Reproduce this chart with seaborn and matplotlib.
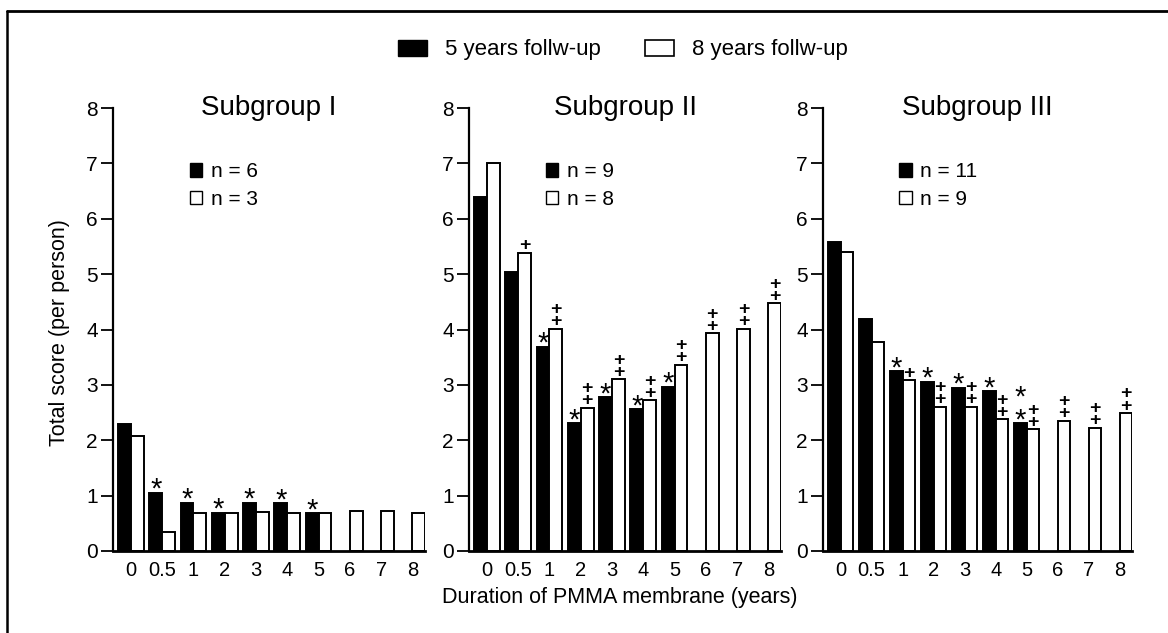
import numpy as np
import pandas as pd
import matplotlib
matplotlib.use("Agg")
import matplotlib.pyplot as plt
from matplotlib.patches import Patch
from matplotlib.lines import Line2D
import seaborn as sns

# ---------------- data ----------------
years = ["0", "0.5", "1", "2", "3", "4", "5", "6", "7", "8"]
series = ["5 years follw-up", "8 years follw-up"]
nan = np.nan

sub1_5y = [2.30, 1.05, 0.87, 0.69, 0.87, 0.86, 0.68, nan, nan, nan]
sub1_8y = [2.08, 0.35, 0.69, 0.69, 0.71, 0.68, 0.68, 0.72, 0.72, 0.68]
sub2_5y = [6.40, 5.03, 3.69, 2.31, 2.78, 2.56, 2.97, nan, nan, nan]
sub2_8y = [7.00, 5.39, 4.01, 2.59, 3.10, 2.72, 3.36, 3.93, 4.01, 4.47]
sub3_5y = [5.58, 4.19, 3.25, 3.06, 2.95, 2.89, 2.31, nan, nan, nan]
sub3_8y = [5.40, 3.77, 3.08, 2.60, 2.60, 2.38, 2.20, 2.35, 2.23, 2.49]

titles = ["Subgroup I", "Subgroup II", "Subgroup III"]
n_5y = ["n = 6", "n = 9", "n = 11"]
n_8y = ["n = 3", "n = 8", "n = 9"]

# significance marks (category -> symbol)
marks1_5y = {"0.5": "*", "1": "*", "2": "*", "3": "*", "4": "*", "5": "*"}
marks1_8y = {}
marks2_5y = {"1": "*", "2": "*", "3": "*", "4": "*", "5": "*"}
marks2_8y = {"0.5": "+", "1": "++", "2": "++", "3": "++", "4": "++",
             "5": "++", "6": "++", "7": "++", "8": "++"}
marks3_5y = {"1": "*", "2": "*", "3": "*", "4": "*", "5": "**"}
marks3_8y = {"1": "+", "2": "++", "3": "++", "4": "++", "5": "++",
             "6": "++", "7": "++", "8": "++"}

xlabel = "Duration of PMMA membrane (years)"
ylabel = "Total score (per person)"

# ---------------- style ----------------
sns.set_theme(style="ticks")
plt.rcParams["font.family"] = ["Liberation Sans", "DejaVu Sans"]
plt.rcParams["text.color"] = "black"
plt.rcParams["axes.labelcolor"] = "black"
plt.rcParams["xtick.color"] = "black"
plt.rcParams["ytick.color"] = "black"

W, H = 1168, 633
fig = plt.figure(figsize=(W / 100, H / 100), dpi=100)
fig.patch.set_facecolor("white")

# axes rectangles in pixel units (left, right)
ax_px = [(113, 425), (469, 781), (823, 1132)]
top_px, bot_px = 108, 551

panels = [
    (sub1_5y, sub1_8y, marks1_5y, marks1_8y),
    (sub2_5y, sub2_8y, marks2_5y, marks2_8y),
    (sub3_5y, sub3_8y, marks3_5y, marks3_8y),
]

palette = {series[0]: "black", series[1]: "white"}

for i, ((v5, v8, m5, m8), (l, r)) in enumerate(zip(panels, ax_px)):
    ax = fig.add_axes([l / W, 1 - bot_px / H, (r - l) / W, (bot_px - top_px) / H])
    ax.set_facecolor("white")
    rows = []
    for y, a, b in zip(years, v5, v8):
        if not np.isnan(a):
            rows.append((y, a, series[0]))
        if not np.isnan(b):
            rows.append((y, b, series[1]))
    df = pd.DataFrame(rows, columns=["year", "score", "follow"])
    sns.barplot(data=df, x="year", y="score", hue="follow", order=years,
                hue_order=series, palette=palette, saturation=1,
                edgecolor="black", linewidth=1.4, width=0.82,
                legend=False, ax=ax)

    # significance marks above bars
    for cont, marks in zip(ax.containers, (m5, m8)):
        for bar in cont:
            cx = bar.get_x() + bar.get_width() / 2
            h = bar.get_height()
            if np.isnan(h):
                continue
            cat = years[int(round(cx))]
            sym = marks.get(cat)
            if not sym:
                continue
            if "*" in sym:
                txt = "\n".join(["*"] * len(sym))
                ax.annotate(txt, xy=(cx, h), xytext=(0, -8), textcoords="offset points",
                            ha="center", va="bottom", fontsize=21, linespacing=0.75)
            else:
                txt = "\n".join(["+"] * len(sym))
                ax.annotate(txt, xy=(cx, h), xytext=(0, -1), textcoords="offset points",
                            ha="center", va="bottom", fontsize=14, fontweight="bold",
                            linespacing=0.62)

    ax.set_xlim(-0.57, 9.4)
    ax.set_ylim(0, 8)
    ax.set_yticks(range(0, 9))
    ax.set_xlabel("")
    ax.set_ylabel("")
    for s in ("top", "right"):
        ax.spines[s].set_visible(False)
    ax.spines["left"].set_linewidth(1.6)
    ax.spines["bottom"].set_linewidth(2.0)
    ax.spines["left"].set_color("black")
    ax.spines["bottom"].set_color("black")
    ax.tick_params(axis="y", length=9, width=1.3, labelsize=15, pad=2)
    ax.tick_params(axis="x", length=0, labelsize=14.5, pad=7)

    ax.text(0.5, 0.984, titles[i], transform=ax.transAxes, ha="center",
            va="baseline", fontsize=20)

    handles = [Patch(facecolor="black", edgecolor="black"),
               Patch(facecolor="white", edgecolor="black", linewidth=1.0)]
    ax.legend(handles, [n_5y[i], n_8y[i]], loc="upper left",
              bbox_to_anchor=(0.20, 0.91), frameon=False, fontsize=15,
              handlelength=0.6, handleheight=0.6, handletextpad=0.4,
              labelspacing=0.4, borderpad=0.2)

# figure-level legend
fig_handles = [Patch(facecolor="black", edgecolor="black"),
               Patch(facecolor="white", edgecolor="black", linewidth=1.2)]
fig.legend(fig_handles, series, ncol=2, loc="center",
           bbox_to_anchor=(623 / W, 1 - 50 / H), frameon=False, fontsize=16,
           handlelength=1.3, handleheight=0.75, handletextpad=0.8,
           columnspacing=2.0)

fig.text(60 / W, 1 - 333 / H, ylabel, rotation=90, ha="center", va="center",
         fontsize=15.5)
fig.text(620 / W, 1 - 598 / H, xlabel, ha="center", va="center", fontsize=15.5)

# scan frame (top and left edges)
fig.add_artist(Line2D([7 / W, 1.0], [1 - 10.5 / H, 1 - 10.5 / H],
                      transform=fig.transFigure, color="black", linewidth=2))
fig.add_artist(Line2D([7 / W, 7 / W], [0.0, 1 - 10.5 / H],
                      transform=fig.transFigure, color="black", linewidth=1.8))

fig.savefig("out.png", dpi=100, facecolor="white")
